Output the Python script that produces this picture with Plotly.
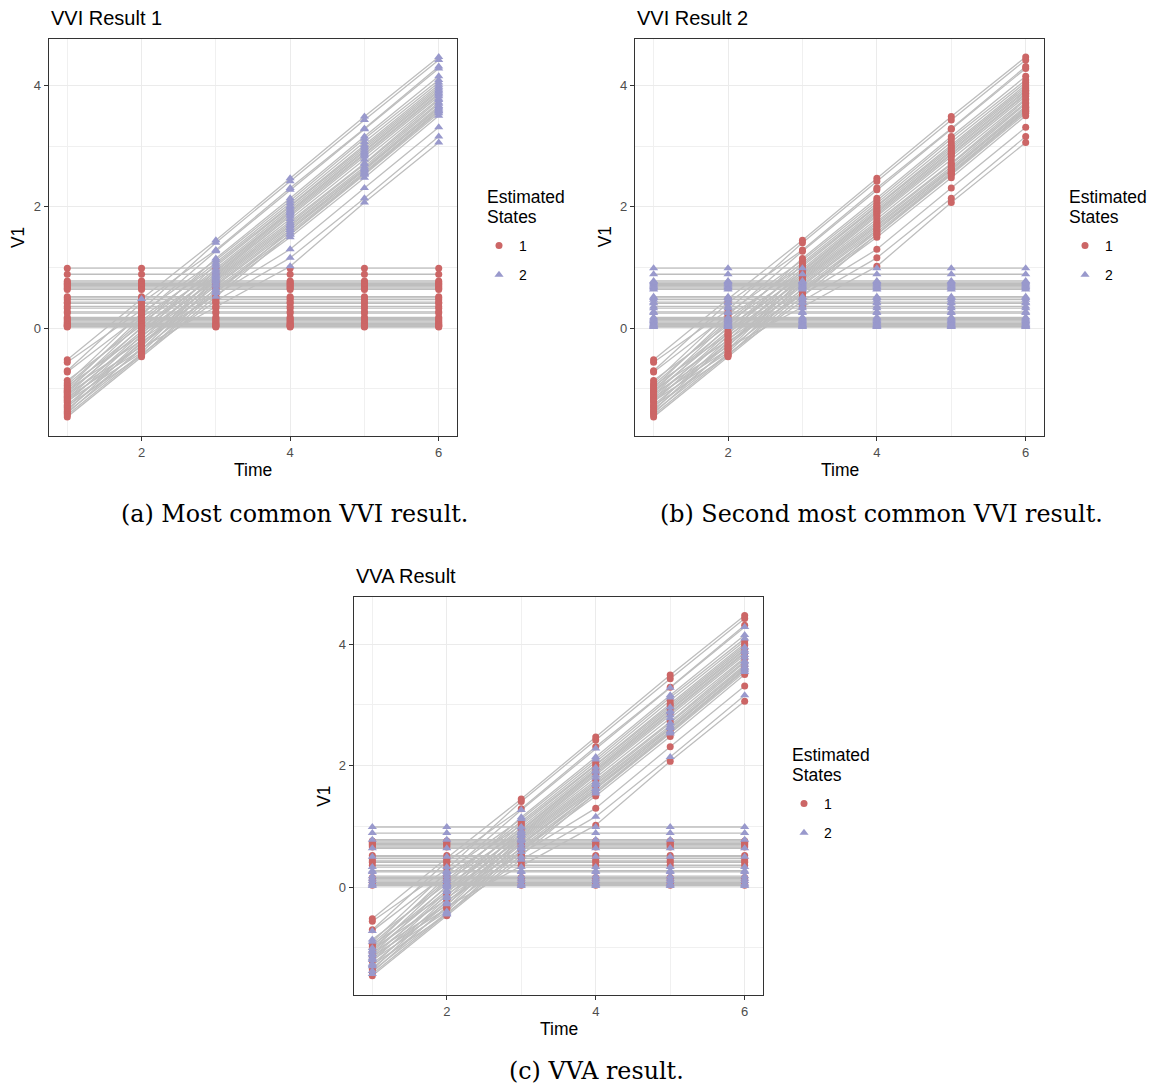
import plotly.graph_objects as go

# the page body has an 8px margin; reference pixel p maps to figure pixel p - OFF
OFF = 8
W, H = 1156 - OFF, 1086 - OFF

times = [1, 2, 3, 4, 5, 6]

# rising trajectories: value at times 1..6
rising_series = [
    [-0.52, 0.48, 1.45, 2.47, 3.49, 4.47],
    [-0.56, 0.30, 1.41, 2.42, 3.43, 4.42],
    [-0.70, 0.42, 1.29, 2.31, 3.29, 4.31],
    [-0.72, 0.22, 1.27, 2.28, 3.28, 4.28],
    [-0.86, 0.05, 1.15, 2.14, 3.16, 4.15],
    [-0.90, 0.25, 1.12, 2.10, 3.12, 4.09],
    [-0.93, 0.12, 1.08, 2.06, 3.07, 4.05],
    [-0.95, -0.10, 1.05, 2.02, 3.02, 4.01],
    [-0.98, 0.18, 1.02, 2.00, 2.99, 3.98],
    [-1.00, 0.00, 0.98, 1.97, 2.96, 3.95],
    [-1.02, -0.20, 0.95, 1.94, 2.93, 3.92],
    [-1.04, 0.10, 0.93, 1.92, 2.90, 3.90],
    [-1.06, -0.05, 0.90, 1.90, 2.88, 3.87],
    [-1.08, -0.30, 0.88, 1.87, 2.86, 3.85],
    [-1.10, 0.02, 0.86, 1.84, 2.83, 3.82],
    [-1.12, -0.14, 0.84, 1.80, 2.78, 3.78],
    [-1.14, -0.35, 0.82, 1.76, 2.72, 3.76],
    [-1.16, -0.08, 0.80, 1.73, 2.70, 3.72],
    [-1.18, -0.25, 0.78, 1.70, 2.66, 3.70],
    [-1.20, -0.40, 0.75, 1.68, 2.63, 3.66],
    [-1.22, -0.12, 0.72, 1.65, 2.60, 3.64],
    [-1.26, -0.28, 0.70, 1.62, 2.57, 3.60],
    [-1.28, -0.45, 0.66, 1.58, 2.55, 3.57],
    [-1.30, -0.18, 0.63, 1.54, 2.53, 3.54],
    [-1.33, -0.35, 0.60, 1.50, 2.48, 3.50],
    [-1.36, -0.22, 0.55, 1.30, 2.31, 3.31],
    [-1.38, -0.42, 0.45, 1.16, 2.14, 3.16],
    [-1.40, -0.32, 0.35, 1.02, 2.07, 3.06],
    [-1.43, -0.44, 0.58, 1.62, 2.62, 3.62],
    [-1.46, -0.47, 0.52, 1.55, 2.55, 3.58],
]

# flat trajectories: constant level over all times
flat_levels = [0.99, 0.89, 0.78, 0.76, 0.74, 0.72, 0.70, 0.68, 0.66, 0.64,
               0.52, 0.50, 0.47, 0.43, 0.41, 0.36, 0.33, 0.27, 0.25, 0.18,
               0.16, 0.14, 0.12, 0.10, 0.08, 0.06, 0.05, 0.04, 0.03, 0.02]

# estimated states per series, one character per time point
states_vvi1_rising = ["122222"] + ["112222"] * 24 + ["111222"] * 3 + ["112222"] * 2
states_vvi1_flat = ["111111"] * 30
states_vvi2_rising = ["111111"] * 30
states_vvi2_flat = ["222222"] * 30
states_vva_rising = ["111111", "111111", "111111", "222222", "222222", "222222",
                     "111111", "111111", "111111", "222222", "111111", "222222",
                     "222222", "111111", "222222", "222222", "111111", "222222",
                     "222222", "222222", "111111", "222222", "222222", "222222",
                     "111111", "111111", "222222", "111111", "222222", "111111"]
states_vva_flat = ["222222", "222222", "222222", "111111", "111111", "111111",
                   "111111", "111111", "111111", "222222", "111111", "222222",
                   "111111", "111111", "111111", "111111", "222222", "222222",
                   "222222", "222222", "111111", "222222", "111111", "222222",
                   "111111", "222222", "111111", "222222", "111111", "222222"]

state_labels = ["1", "2"]
state_colors = {"1": "#CC6666", "2": "#9999CC"}
state_symbols = {"1": "circle", "2": "triangle-up"}
state_sizes = {"1": 7, "2": 8}

panels = [
    dict(title="VVI Result 1", caption="(a) Most common VVI result.",
         rs=states_vvi1_rising, fs=states_vvi1_flat,
         px=(48.7, 457.3), py=(38.7, 436.0), cap=(294.5, 514), leg=(485, 197)),
    dict(title="VVI Result 2", caption="(b) Second most common VVI result.",
         rs=states_vvi2_rising, fs=states_vvi2_flat,
         px=(635.0, 1044.3), py=(38.7, 436.0), cap=(881.5, 514), leg=(1067, 197)),
    dict(title="VVA Result", caption="(c) VVA result.",
         rs=states_vva_rising, fs=states_vva_flat,
         px=(353.7, 763.3), py=(597.3, 995.0), cap=(596.5, 1071), leg=(790, 755)),
]


def fx(p):
    return (p - OFF) / W


def fy(p):
    return 1 - (p - OFF) / H


fig = go.Figure()
annotations = []
layout = {}

FONT = "Liberation Sans, Arial, sans-serif"

for i, p in enumerate(panels):
    k = "" if i == 0 else str(i + 1)
    xa, ya = "x" + k, "y" + k
    leg = "legend" + k

    all_series = [(s, st) for s, st in zip(rising_series, p["rs"])] + \
                 [([lv] * len(times), st) for lv, st in zip(flat_levels, p["fs"])]

    lx, ly = [], []
    for vals, st in all_series:
        lx += times + [None]
        ly += vals + [None]
    fig.add_trace(go.Scatter(x=lx, y=ly, mode="lines", xaxis=xa, yaxis=ya,
                             line=dict(color="#BEBEBE", width=1.3),
                             showlegend=False, hoverinfo="skip"))
    for lab in state_labels:
        mx, my = [], []
        for vals, st in all_series:
            for t, v, c in zip(times, vals, st):
                if c == lab:
                    mx.append(t)
                    my.append(v)
        fig.add_trace(go.Scatter(x=mx, y=my, mode="markers", xaxis=xa, yaxis=ya,
                                 name=lab, legend=leg, legendgroup=leg + lab,
                                 marker=dict(symbol=state_symbols[lab], color=state_colors[lab],
                                             size=state_sizes[lab], line=dict(width=0))))

    x0, x1 = p["px"]
    y0, y1 = p["py"]
    common = dict(showline=True, mirror=True, linecolor="#333333", linewidth=1.1,
                  ticks="outside", ticklen=4, tickwidth=1.1, tickcolor="#333333",
                  tickfont=dict(family=FONT, size=13, color="#4D4D4D"),
                  showgrid=True, gridcolor="#EBEBEB", gridwidth=1.1, zeroline=False)
    layout["xaxis" + k] = dict(domain=[fx(x0), fx(x1)], range=[0.75, 6.25], anchor=ya,
                               tickmode="array", tickvals=[2, 4, 6],
                               minor=dict(tickmode="array", tickvals=[1, 3, 5], showgrid=True,
                                          gridcolor="#F0F0F0", gridwidth=0.8),
                               **common)
    layout["yaxis" + k] = dict(domain=[fy(y1), fy(y0)], range=[-1.775, 4.77], anchor=xa,
                               tickmode="array", tickvals=[0, 2, 4],
                               minor=dict(tickmode="array", tickvals=[-1, 1, 3], showgrid=True,
                                          gridcolor="#F0F0F0", gridwidth=0.8),
                               **common)
    lgx, lgy = p["leg"]
    layout[leg] = dict(x=fx(lgx - 6 + (4 if i == 1 else 0)), y=fy(lgy + 33),
                       xanchor="left", yanchor="top",
                       bgcolor="rgba(0,0,0,0)", borderwidth=0, tracegroupgap=8,
                       font=dict(family=FONT, size=14, color="#000000"))
    # legend title (two lines)
    annotations.append(dict(text="Estimated", x=fx(lgx), y=fy(lgy), xref="paper", yref="paper",
                            xanchor="left", yanchor="middle", showarrow=False,
                            font=dict(family=FONT, size=17.5, color="#000000")))
    annotations.append(dict(text="States", x=fx(lgx), y=fy(lgy + 19.5), xref="paper", yref="paper",
                            xanchor="left", yanchor="middle", showarrow=False,
                            font=dict(family=FONT, size=17.5, color="#000000")))

    # title
    annotations.append(dict(text=p["title"], x=fx(x0), y=fy(y0 - 21),
                            xref="paper", yref="paper", xanchor="left", yanchor="middle",
                            showarrow=False, font=dict(family=FONT, size=20, color="#000000")))
    # axis titles
    annotations.append(dict(text="Time", x=fx((x0 + x1) / 2), y=fy(y1 + 34),
                            xref="paper", yref="paper", xanchor="center", yanchor="middle",
                            showarrow=False, font=dict(family=FONT, size=17.5, color="#000000")))
    annotations.append(dict(text="V1", x=fx(x0 - 30), y=fy((y0 + y1) / 2),
                            xref="paper", yref="paper", xanchor="center", yanchor="middle",
                            textangle=-90, showarrow=False,
                            font=dict(family=FONT, size=17.5, color="#000000")))
    cx, cy = p["cap"]
    annotations.append(dict(text=p["caption"], x=fx(cx), y=fy(cy),
                            xref="paper", yref="paper", xanchor="center", yanchor="middle",
                            showarrow=False,
                            font=dict(family="DejaVu Serif, serif", size=23.8, color="#000000")))

fig.update_layout(width=W, height=H, margin=dict(l=0, r=0, t=0, b=0),
                  paper_bgcolor="white", plot_bgcolor="white",
                  annotations=annotations, **layout)

fig.write_html("out.html")
